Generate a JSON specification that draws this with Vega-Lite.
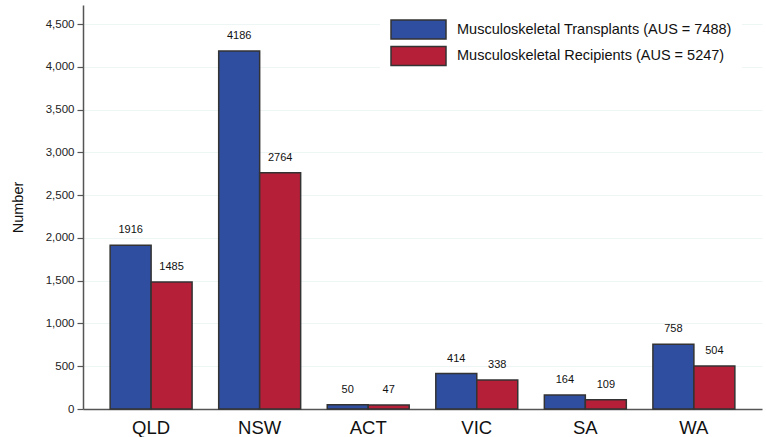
{
  "$schema": "https://vega.github.io/schema/vega-lite/v6.json",
  "width": 679,
  "height": 404,
  "autosize": {"type": "none"},
  "padding": {"left": 83, "top": 5, "right": 4, "bottom": 28},
  "background": "white",
  "config": {
    "font": "Liberation Sans",
    "view": {"stroke": null}
  },
  "data": {
    "values": [
      {"state": "QLD", "series": "Musculoskeletal Transplants (AUS = 7488)", "value": 1916},
      {"state": "QLD", "series": "Musculoskeletal Recipients (AUS = 5247)", "value": 1485},
      {"state": "NSW", "series": "Musculoskeletal Transplants (AUS = 7488)", "value": 4186},
      {"state": "NSW", "series": "Musculoskeletal Recipients (AUS = 5247)", "value": 2764},
      {"state": "ACT", "series": "Musculoskeletal Transplants (AUS = 7488)", "value": 50},
      {"state": "ACT", "series": "Musculoskeletal Recipients (AUS = 5247)", "value": 47},
      {"state": "VIC", "series": "Musculoskeletal Transplants (AUS = 7488)", "value": 414},
      {"state": "VIC", "series": "Musculoskeletal Recipients (AUS = 5247)", "value": 338},
      {"state": "SA", "series": "Musculoskeletal Transplants (AUS = 7488)", "value": 164},
      {"state": "SA", "series": "Musculoskeletal Recipients (AUS = 5247)", "value": 109},
      {"state": "WA", "series": "Musculoskeletal Transplants (AUS = 7488)", "value": 758},
      {"state": "WA", "series": "Musculoskeletal Recipients (AUS = 5247)", "value": 504}
    ]
  },
  "encoding": {
    "x": {
      "field": "state",
      "type": "nominal",
      "sort": ["QLD", "NSW", "ACT", "VIC", "SA", "WA"],
      "scale": {"paddingInner": 0.245, "paddingOuter": 0.25},
      "axis": {
        "title": null,
        "labelAngle": 0,
        "labelFontSize": 18.5,
        "labelColor": "#111",
        "labelPadding": 9,
        "ticks": false,
        "domainColor": "#555",
        "domainWidth": 1.5,
        "grid": false
      }
    },
    "xOffset": {
      "field": "series",
      "type": "nominal",
      "scale": {
        "domain": ["Musculoskeletal Transplants (AUS = 7488)", "Musculoskeletal Recipients (AUS = 5247)"],
        "paddingInner": 0,
        "paddingOuter": 0
      }
    },
    "y": {
      "field": "value",
      "type": "quantitative",
      "scale": {"domain": [0, 4725], "nice": false},
      "axis": {
        "title": "Number",
        "titleFontSize": 14.5,
        "titleFontWeight": "normal",
        "titleColor": "#111",
        "titlePadding": 20,
        "values": [0, 500, 1000, 1500, 2000, 2500, 3000, 3500, 4000, 4500],
        "format": ",d",
        "labelFontSize": 11.5,
        "labelColor": "#222",
        "labelPadding": 3,
        "tickSize": 6,
        "tickColor": "#555",
        "tickWidth": 1.2,
        "domainColor": "#555",
        "domainWidth": 1.5,
        "grid": true,
        "gridColor": "#EEF5F5",
        "gridWidth": 1
      }
    }
  },
  "layer": [
    {
      "mark": {"type": "bar", "stroke": "#333", "strokeWidth": 1.5},
      "encoding": {
        "fill": {
          "field": "series",
          "type": "nominal",
          "scale": {
            "domain": ["Musculoskeletal Transplants (AUS = 7488)", "Musculoskeletal Recipients (AUS = 5247)"],
            "range": ["#2F4EA0", "#B51F37"]
          },
          "legend": {
            "title": null,
            "orient": "none",
            "legendX": 297,
            "legendY": 4,
            "padding": 10,
            "fillColor": "white",
            "symbolType": "M-1,-1L4.79,-1L4.79,1L-1,1Z",
            "symbolSize": 361,
            "symbolStrokeColor": "#333",
            "symbolStrokeWidth": 1.5,
            "symbolOpacity": 1,
            "labelFontSize": 14.5,
            "labelColor": "#111",
            "labelOffset": 46,
            "labelLimit": 400,
            "rowPadding": 1.5
          }
        }
      }
    },
    {
      "mark": {"type": "text", "baseline": "middle", "dy": -15, "fontSize": 11, "color": "#111"},
      "encoding": {
        "text": {"field": "value", "type": "quantitative", "format": "d"}
      }
    }
  ]
}
